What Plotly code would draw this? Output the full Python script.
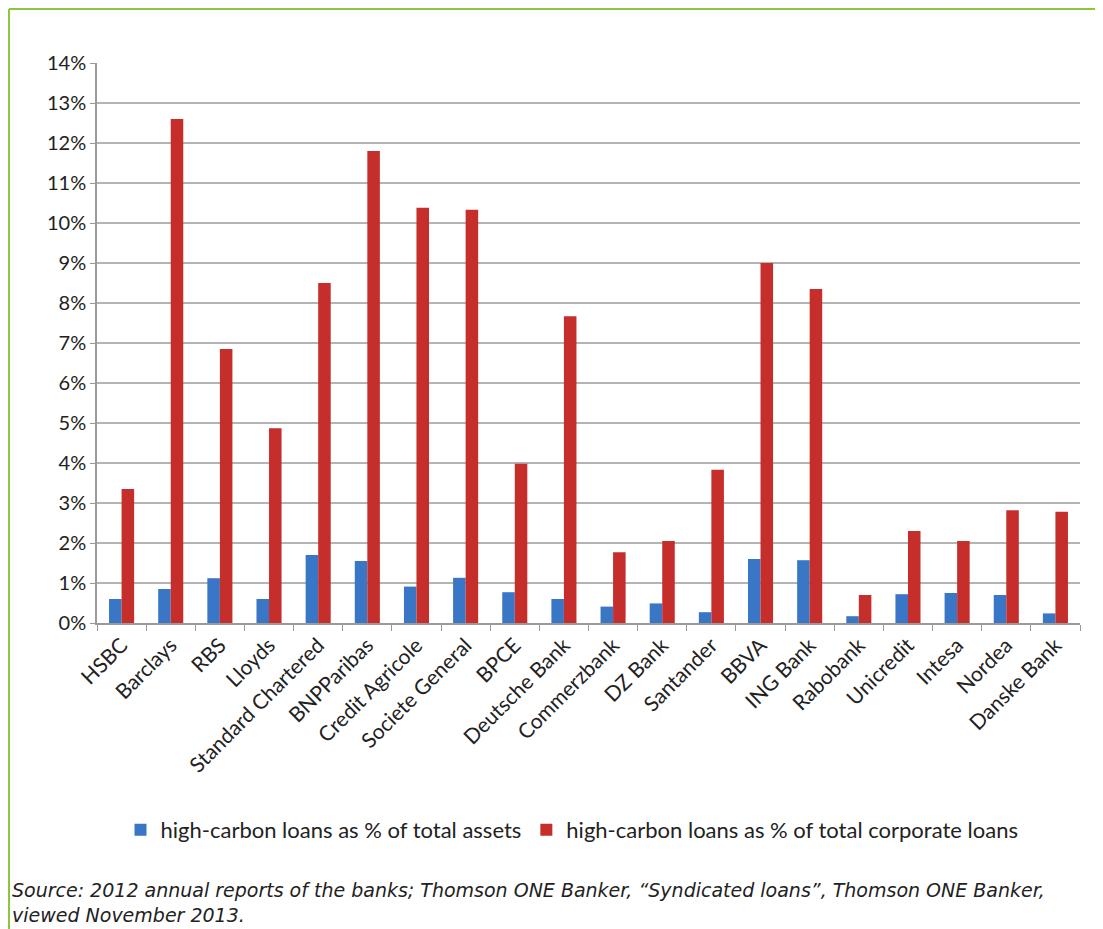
import plotly.graph_objects as go

banks = ["HSBC", "Barclays", "RBS", "Lloyds", "Standard Chartered", "BNPParibas",
         "Credit Agricole", "Societe General", "BPCE", "Deutsche Bank", "Commerzbank",
         "DZ Bank", "Santander", "BBVA", "ING Bank", "Rabobank", "Unicredit",
         "Intesa", "Nordea", "Danske Bank"]
pct_assets = [0.60, 0.85, 1.12, 0.60, 1.70, 1.55, 0.91, 1.13, 0.77, 0.60, 0.41,
              0.49, 0.27, 1.60, 1.57, 0.17, 0.72, 0.75, 0.70, 0.24]
pct_corp_loans = [3.35, 12.60, 6.85, 4.87, 8.50, 11.80, 10.38, 10.33, 3.98, 7.67,
                  1.77, 2.05, 3.83, 9.00, 8.35, 0.70, 2.30, 2.05, 2.82, 2.78]
series_names = ["high-carbon loans as % of total assets",
                "high-carbon loans as % of total corporate loans"]
y_ticks = list(range(0, 15))
source_text = ("<i>Source: 2012 annual reports of the banks; Thomson ONE Banker, "
               "\u201cSyndicated loans\u201d, Thomson ONE Banker,<br>viewed November 2013.</i>")

# page body has an 8px margin; work in target-pixel coords minus offset
OFF = 8
W, H = 1103 - OFF, 929 - OFF
L, R, T, B = 97 - OFF, 1080 - OFF, 63 - OFF, 623 - OFF

def px(x):
    return (x - OFF - L) / (R - L)

def py(y):
    return (B - (y - OFF)) / (B - T)

fig = go.Figure()
fig.add_trace(go.Bar(x=banks, y=pct_assets, name=series_names[0],
                     marker=dict(color="#3a76c6", line=dict(width=0))))
fig.add_trace(go.Bar(x=banks, y=pct_corp_loans, name=series_names[1],
                     marker=dict(color="#c52e2b", line=dict(width=0))))

green = "#8cc63e"
fig.add_shape(type="line", xref="paper", yref="paper",
              x0=px(OFF + 1), x1=px(1103 + 5), y0=py(OFF + 1), y1=py(OFF + 1),
              line=dict(color=green, width=2))
fig.add_shape(type="line", xref="paper", yref="paper",
              x0=px(OFF + 1), x1=px(OFF + 1), y0=py(OFF + 1), y1=py(929 + 5),
              line=dict(color=green, width=2))

fig.add_annotation(text=source_text, xref="paper", yref="paper",
                   x=px(10), y=py(902), xanchor="left", yanchor="middle",
                   align="left", showarrow=False,
                   font=dict(family="DejaVu Sans, sans-serif",
                             size=19, color="#222222"))

fig.update_layout(
    width=W, height=H,
    margin=dict(l=L, r=W - R, t=T, b=H - B),
    paper_bgcolor="white", plot_bgcolor="white",
    barmode="group", bargap=0.49, bargroupgap=0,
    font=dict(family="Lato, Open Sans, sans-serif", size=17, color="#222222"),
    legend=dict(orientation="h", x=px(572), xanchor="center",
                y=py(830), yanchor="middle",
                font=dict(size=22), itemwidth=30,
                traceorder="normal"),
    showlegend=True,
)
fig.update_xaxes(type="category", tickangle=-45, showline=True,
                 linecolor="#9a9a9a", linewidth=1.5, ticks="outside",
                 tickson="boundaries", ticklen=6, tickcolor="#9a9a9a",
                 showgrid=False, tickfont=dict(size=21))
fig.update_yaxes(range=[0, 14], tickvals=y_ticks,
                 ticktext=[f"{v}%" for v in y_ticks],
                 showline=True, linecolor="#9a9a9a", linewidth=1.5,
                 ticks="outside", ticklen=5, tickcolor="#9a9a9a",
                 showgrid=True, gridcolor="#b4b4b4", gridwidth=1.5,
                 zeroline=False, tickfont=dict(size=20))

fig.write_html("out.html")
